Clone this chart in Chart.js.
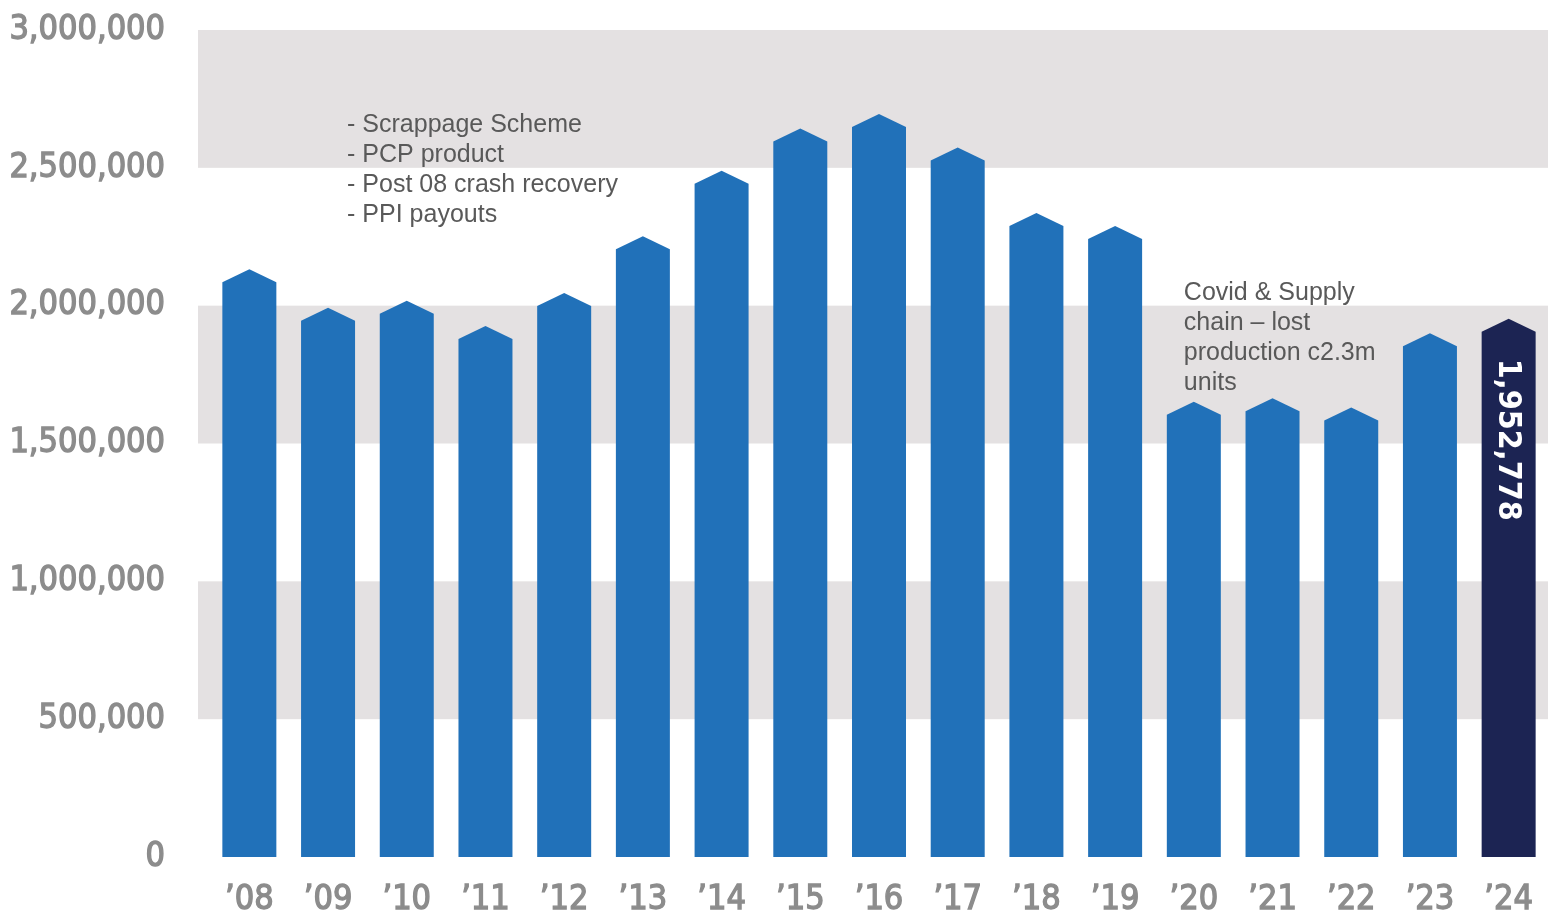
<!DOCTYPE html>
<html>
<head>
<meta charset="utf-8">
<title>UK new car registrations</title>
<script src="https://cdn.jsdelivr.net/npm/chart.js@4.4.1/dist/chart.umd.min.js"></script>
<style>
  html, body { margin: 0; padding: 0; background: #fff; }
  #chart { display: block; }
</style>
</head>
<body>
<canvas id="chart" width="1548" height="913"></canvas>
<script>
// Data
const years = ['’08', '’09', '’10', '’11', '’12', '’13', '’14', '’15', '’16', '’17', '’18', '’19', '’20', '’21', '’22', '’23', '’24'];
const registrations = [2132000, 1992000, 2018000, 1926000, 2046000, 2252000, 2489000, 2643000, 2695000, 2574000, 2336000, 2289000, 1651000, 1664000, 1631000, 1900000, 1952778];
const yTicks = [0, 500000, 1000000, 1500000, 2000000, 2500000, 3000000];
const shadedBands = [[500000, 1000000], [1500000, 2000000], [2500000, 3000000]];
const boomNotes = ['- Scrappage Scheme', '- PCP product', '- Post 08 crash recovery', '- PPI payouts'];
const covidNotes = ['Covid & Supply', 'chain – lost', 'production c2.3m', 'units'];

const barBlue = '#2171b9';
const barNavy = '#1c2453';
const bandGrey = '#e4e1e2';
const tickGrey = '#8c8c8c';
const noteGrey = '#595959';
const tickFont = '"DejaVu Sans Condensed", "DejaVu Sans", sans-serif';

const barColors = registrations.map((v, i) => i === registrations.length - 1 ? barNavy : barBlue);

// Format number with commas
function formatNumber(n) {
  return n.toString().replace(/\B(?=(\d{3})+(?!\d))/g, ',');
}

// Grey bands behind the bars
const bandsPlugin = {
  id: 'bands',
  beforeDatasetsDraw(chart) {
    const { ctx, chartArea, scales } = chart;
    ctx.save();
    ctx.fillStyle = bandGrey;
    shadedBands.forEach(([lo, hi]) => {
      const top = scales.y.getPixelForValue(hi);
      const bottom = scales.y.getPixelForValue(lo);
      ctx.fillRect(chartArea.left - 12, top, chartArea.right - chartArea.left + 12, bottom - top);
    });
    ctx.restore();
  }
};

// Bars with a pointed roof
const houseBarsPlugin = {
  id: 'houseBars',
  beforeDatasetsDraw(chart) {
    const { ctx } = chart;
    const meta = chart.getDatasetMeta(0);
    const roof = 13;
    ctx.save();
    meta.data.forEach((bar, i) => {
      const half = bar.width / 2;
      ctx.beginPath();
      ctx.moveTo(bar.x - half, bar.base);
      ctx.lineTo(bar.x - half, bar.y + roof);
      ctx.lineTo(bar.x, bar.y);
      ctx.lineTo(bar.x + half, bar.y + roof);
      ctx.lineTo(bar.x + half, bar.base);
      ctx.closePath();
      ctx.fillStyle = barColors[i];
      ctx.fill();
    });

    // Value label inside the latest bar
    const last = meta.data[meta.data.length - 1];
    ctx.translate(last.x, last.y + 40);
    ctx.rotate(Math.PI / 2);
    ctx.fillStyle = '#ffffff';
    ctx.font = 'bold 32px ' + tickFont;
    ctx.textAlign = 'left';
    ctx.textBaseline = 'middle';
    ctx.fillText(formatNumber(registrations[registrations.length - 1]), 0, 1);
    ctx.restore();
    return false;
  }
};

// Text notes
const notesPlugin = {
  id: 'notes',
  afterDraw(chart) {
    const { ctx, scales } = chart;
    ctx.save();
    ctx.fillStyle = noteGrey;
    ctx.font = '25px "Liberation Sans", Arial, sans-serif';
    ctx.textAlign = 'left';
    ctx.textBaseline = 'middle';

    let x = scales.x.getPixelForValue(1) + 19;
    let y = 125;
    boomNotes.forEach(line => {
      ctx.fillText(line, x, y);
      y += 30;
    });

    x = scales.x.getPixelForValue(12) - 10;
    y = 293;
    covidNotes.forEach(line => {
      ctx.fillText(line, x, y);
      y += 30;
    });
    ctx.restore();
  }
};

const ctx = document.getElementById('chart').getContext('2d');
const chart = new Chart(ctx, {
  type: 'bar',
  data: {
    labels: years,
    datasets: [{
      data: registrations,
      backgroundColor: barColors,
      barPercentage: 0.686,
      categoryPercentage: 1
    }]
  },
  options: {
    responsive: false,
    animation: false,
    layout: {
      padding: { top: 30, right: 0, bottom: 0, left: 0 }
    },
    plugins: {
      legend: { display: false },
      tooltip: { enabled: false }
    },
    scales: {
      x: {
        grid: { display: false, drawTicks: false },
        border: { display: false },
        ticks: {
          color: tickGrey,
          padding: 23,
          textStrokeColor: tickGrey,
          textStrokeWidth: 1.3,
          font: { family: tickFont, size: 34 }
        },
        afterFit(scale) {
          scale.height = 56;
          scale.paddingLeft = 0;
          scale.paddingRight = 0;
        }
      },
      y: {
        min: 0,
        max: 3000000,
        grid: { display: false, drawTicks: false },
        border: { display: false },
        afterBuildTicks(scale) {
          scale.ticks = yTicks.map(v => ({ value: v }));
        },
        ticks: {
          color: tickGrey,
          padding: 45,
          textStrokeColor: tickGrey,
          textStrokeWidth: 1.3,
          font: { family: tickFont, size: 34 },
          callback: value => formatNumber(value)
        },
        afterFit(scale) {
          scale.width = 210;
          scale.paddingTop = 0;
          scale.paddingBottom = 0;
        }
      }
    }
  },
  plugins: [bandsPlugin, houseBarsPlugin, notesPlugin]
});
</script>
</body>
</html>
